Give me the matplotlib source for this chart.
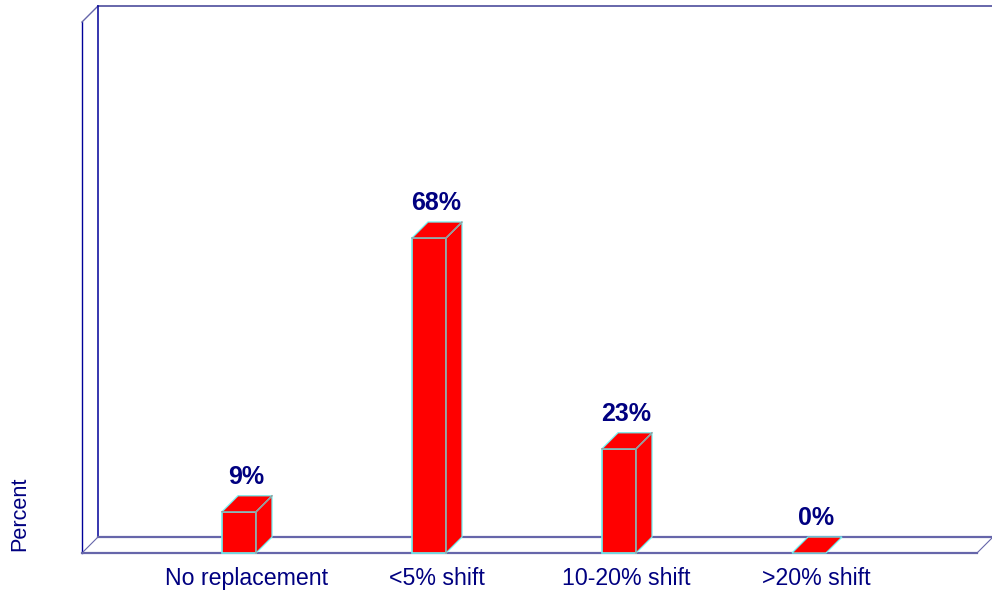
import matplotlib
matplotlib.use("Agg")
import matplotlib.pyplot as plt
from matplotlib.patches import Polygon

categories = ["No replacement", "<5% shift", "10-20% shift", ">20% shift"]
percent_labels = ["9%", "68%", "23%", "0%"]
# bar heights as drawn in the picture
heights = [8.9, 68, 22.5, 0]

navy = "#000080"
edge = "#70f0f0"
floor = "#6666aa"

plt.rcParams['font.family'] = ['Liberation Sans', 'DejaVu Sans']

fig = plt.figure(figsize=(9.92, 5.97), dpi=100)
ax = fig.add_axes([0, 0, 1, 1])
ax.axis("off")

# category 0 sits at px 239, 190 px between bars, 4.632 px per percent, base at px 553
ax.set_xlim(-239 / 190, (992 - 239) / 190)
ax.set_ylim(-(597 - 553) / 4.632, 553 / 4.632)

dx = 16 / 190
dy = 16 / 4.632
half = 17 / 190

# chart box
x0 = -157 / 190
x1 = 738 / 190
top = 531 / 4.632
wall_top = top + dy
ax.plot([x0, x0], [0, top], color="#000099", lw=1.0)
ax.plot([x0, x0 + dx], [top, wall_top], color=floor, lw=1.0)
ax.plot([x0 + dx, x1 + dx], [wall_top, wall_top], color=floor, lw=1.4)
ax.plot([x0 + dx, x0 + dx], [dy, wall_top], color="#000099", lw=1.1)
ax.plot([x0 + dx, x1 + dx], [dy, dy], color=floor, lw=1.6)
ax.plot([x0, x1], [0, 0], color=floor, lw=1.6)
ax.plot([x0, x0 + dx], [0, dy], color=floor, lw=0.8)
ax.plot([x1, x1 + dx], [0, dy], color=floor, lw=0.8)

for i, (name, label, val) in enumerate(zip(categories, percent_labels, heights)):
    left, right = i - half, i + half
    if val > 0:
        ax.add_patch(Polygon([(left, 0), (right, 0), (right, val), (left, val)],
                             facecolor="red", edgecolor=edge, lw=1.2, zorder=3))
        ax.add_patch(Polygon([(right, 0), (right + dx, dy), (right + dx, val + dy), (right, val)],
                             facecolor="red", edgecolor=edge, lw=0.9, zorder=3))
    ax.add_patch(Polygon([(left, val), (right, val), (right + dx, val + dy), (left + dx, val + dy)],
                         facecolor="red", edgecolor=edge, lw=0.9, zorder=3))
    if val > 0:
        ax.plot([right, right], [0, val], color="#999999", lw=1.1, zorder=4)
        ax.plot([left, right, right + dx], [val, val, val + dy], color="#999999", lw=1.0, zorder=4)
    ax.text(i + dx / 2 - 1 / 190, val + dy + 4.15, label, color=navy, fontsize=18,
            fontweight="bold", ha="center", va="center")
    ax.text(i + 7.5 / 190, -25.5 / 4.632, name, color=navy, fontsize=16.7, ha="center", va="center")

ax.text(-219.5 / 190, 39 / 4.632, "Percent", color=navy, fontsize=15.6, rotation=90,
        ha="center", va="center")

plt.savefig("out.png", dpi=100)
plt.close()
